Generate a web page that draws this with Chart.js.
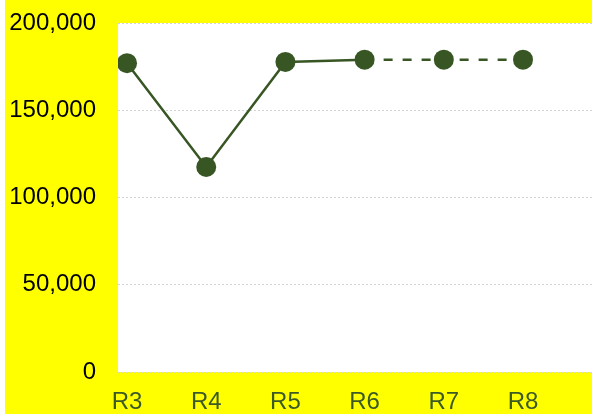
<!DOCTYPE html>
<html>
<head>
<meta charset="utf-8">
<script src="https://cdn.jsdelivr.net/npm/chart.js@4/dist/chart.umd.min.js"></script>
<style>
  html, body { margin: 0; padding: 0; background: #ffffff; }
  #wrap { position: absolute; left: 5px; top: 0; width: 587px; height: 414px; }
</style>
</head>
<body>
<div id="wrap"><canvas id="lineChart"></canvas></div>
<script>
const categories = ['R3', 'R4', 'R5', 'R6', 'R7', 'R8'];
const values = [177000, 117500, 177700, 179000, 179000, 179000];
const yTicks = [0, 50000, 100000, 150000, 200000];
const dashedFrom = 3; // R6 onwards is a forecast (dashed)

const green = '#375623';

// fill canvas yellow and plot area white
const backgrounds = {
    id: 'backgrounds',
    beforeDraw(chart) {
        const ctx = chart.ctx;
        const a = chart.chartArea;
        ctx.save();
        ctx.fillStyle = '#ffff00';
        ctx.fillRect(0, 0, chart.width, chart.height);
        ctx.fillStyle = '#ffffff';
        ctx.fillRect(a.left, a.top, a.right - a.left, a.bottom - a.top);
        ctx.restore();
    }
};

function renderLineChart() {
    const ctx = document.getElementById('lineChart').getContext('2d');
    const points = values.map((v, i) => ({ x: i, y: v }));

    new Chart(ctx, {
        type: 'line',
        data: {
            datasets: [{
                data: points,
                borderColor: green,
                backgroundColor: green,
                borderWidth: 2.5,
                pointRadius: 10,
                pointHoverRadius: 10,
                pointBackgroundColor: green,
                pointBorderWidth: 0,
                tension: 0,
                segment: {
                    borderDash: c => c.p0DataIndex >= dashedFrom ? [9, 10] : undefined
                }
            }]
        },
        options: {
            responsive: true,
            maintainAspectRatio: false,
            animation: false,
            layout: { autoPadding: false, padding: { top: 23, right: 0, bottom: 0, left: 0 } },
            plugins: {
                legend: { display: false },
                tooltip: { enabled: false }
            },
            scales: {
                x: {
                    type: 'linear',
                    min: -0.114,
                    max: 5.871,
                    afterBuildTicks: axis => { axis.ticks = categories.map((c, i) => ({ value: i })); },
                    afterFit: axis => { axis.height = 42; axis.paddingLeft = 0; axis.paddingRight = 0; },
                    grid: { display: false, drawTicks: false },
                    border: { display: false },
                    ticks: {
                        callback: v => categories[v],
                        color: '#3b5a26',
                        font: { family: 'Liberation Sans', size: 24 },
                        padding: 16,
                        maxRotation: 0,
                        autoSkip: false
                    }
                },
                y: {
                    min: 0,
                    max: 200000,
                    afterBuildTicks: axis => { axis.ticks = yTicks.map(v => ({ value: v })); },
                    afterFit: axis => { axis.width = 113; axis.paddingTop = 0; axis.paddingBottom = 0; },
                    grid: { color: '#d4d4d4', lineWidth: 1, drawTicks: false },
                    border: { display: false, dash: [2, 2] },
                    ticks: {
                        callback: v => v.toLocaleString('en-US'),
                        color: '#000000',
                        font: { family: 'Liberation Sans', size: 24 },
                        padding: 22
                    }
                }
            }
        },
        plugins: [backgrounds]
    });
}

window.onload = renderLineChart;
</script>
</body>
</html>
